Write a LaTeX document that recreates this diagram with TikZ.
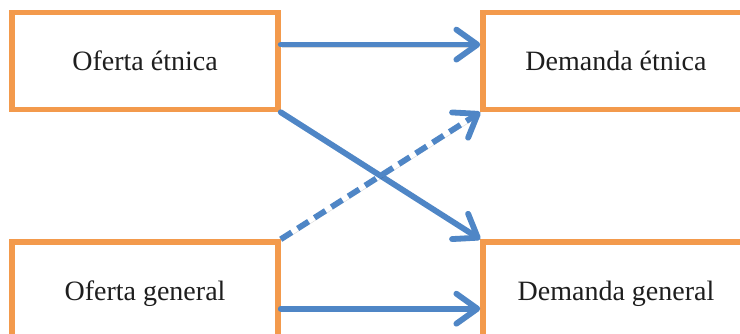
\documentclass[tikz,border=0pt]{standalone}
\usepackage{fontspec}
\setmainfont{Liberation Serif}
\usetikzlibrary{arrows.meta,calc}
\definecolor{boxorange}{HTML}{F39A4C}
\definecolor{arrowblue}{HTML}{4F86C6}
\definecolor{txt}{HTML}{1E1E1E}
\tikzset{
  boxnode/.style={draw=boxorange, line width=5.5pt, fill=white, minimum width=266pt, minimum height=97pt, inner sep=0pt, text=txt, font=\fontsize{28}{32}\selectfont},
  lowbox/.style={boxnode, minimum height=103pt},
  flow/.style={draw=arrowblue, line width=5.8pt, line cap=round,
    -{Straight Barb[length=21pt, width=30pt, line width=5.8pt, round]},
    preaction={draw=black, opacity=0.15, transform canvas={xshift=1pt, yshift=-2.5pt}}},
  dashflow/.style={flow, dash pattern=on 13pt off 7pt, line cap=butt}
}
\begin{document}
\begin{tikzpicture}[x=1pt, y=-1pt]
\useasboundingbox (0,0) rectangle (740,334);
\clip (0,0) rectangle (740,334);
\fill[white] (0,0) rectangle (740,334);
\node[boxnode] (oe) at (145,61) {Oferta étnica};
\node[boxnode] (de) at (616,61) {Demanda étnica};
\node[lowbox] (og) at (145,293.5) {Oferta general};
\node[lowbox] (dg) at (616,293.5) {Demanda general};
\draw[flow] ($(oe.north east)!0.34!(oe.south east)$) -- ($(de.north west)!0.34!(de.south west)$);
\draw[flow] ($(og.north east)!0.64!(og.south east)$) -- ($(dg.north west)!0.64!(dg.south west)$);
\draw[flow] (oe.south east) -- (dg.north west);
\draw[dashflow] (og.north east) -- (de.south west);
\end{tikzpicture}
\end{document}
